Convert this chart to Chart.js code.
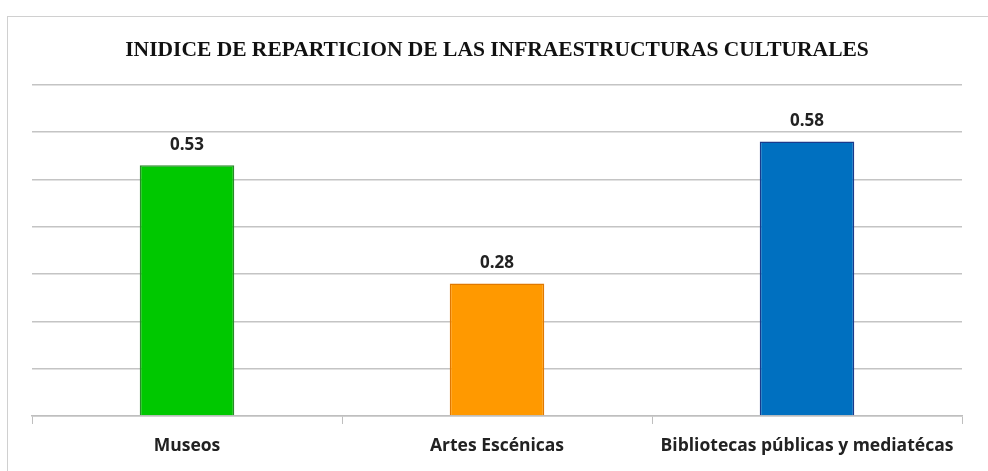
<!DOCTYPE html>
<html><head><meta charset="utf-8">
<script src="https://cdn.jsdelivr.net/npm/chart.js@4/dist/chart.umd.min.js"></script>
<style>
html,body{margin:0;padding:0;background:#fff;}
#wrap{position:relative;width:988px;height:471px;overflow:hidden;}
#frame{position:absolute;left:7px;top:16px;width:1000px;height:500px;border:1px solid #d0d0d0;box-sizing:border-box;}
canvas{position:absolute;left:0;top:0;}
</style></head>
<body><div id="wrap"><div id="frame"></div><canvas id="c" width="988" height="471"></canvas></div>
<script>
const titleText = "INIDICE DE REPARTICION DE LAS INFRAESTRUCTURAS CULTURALES";
const categories = ["Museos", "Artes Escénicas", "Bibliotecas públicas y mediatécas"];
const values = [0.53, 0.28, 0.58];
const barColors = ["#00c800", "#ff9900", "#0070c0"];
const borderColors = ["#2a8a2a", "#e07800", "#1a3a8c"];
const yMin = 0, yMax = 0.7, yStep = 0.1;

const labelPlugin = {
  id: 'valLabels',
  afterDatasetsDraw(chart) {
    const ctx = chart.ctx;
    const meta = chart.getDatasetMeta(0);
    ctx.save();
    ctx.font = "bold 17px 'Open Sans', 'DejaVu Sans', sans-serif";
    ctx.fillStyle = "#222";
    ctx.textAlign = "center";
    ctx.textBaseline = "middle";
    meta.data.forEach((bar, i) => {
      ctx.fillText(values[i].toFixed(2), bar.x, bar.y - 20);
    });
    ctx.restore();
  }
};

new Chart(document.getElementById('c'), {
  type: 'bar',
  data: {
    labels: categories,
    datasets: [{
      data: values,
      backgroundColor: barColors,
      borderColor: borderColors,
      borderWidth: 1.5,
      barPercentage: 0.61,
      categoryPercentage: 0.5
    }]
  },
  options: {
    responsive: false,
    animation: false,
    layout: { padding: { left: 32, right: 26, top: 0, bottom: 2 } },
    plugins: {
      legend: { display: false },
      tooltip: { enabled: false },
      title: {
        display: true,
        text: titleText,
        color: "#111",
        font: { family: "'Liberation Serif', 'Times New Roman', serif", size: 21.5, weight: 'bold' },
        padding: { top: 38, bottom: 21 }
      }
    },
    scales: {
      x: {
        grid: { display: true, drawOnChartArea: false, drawTicks: true, tickLength: 8, color: "#bfbfbf", offset: true },
        border: { display: true, color: "#bfbfbf", width: 1.5 },
        ticks: { color: "#222", font: { family: "'Open Sans', 'DejaVu Sans', sans-serif", size: 17.5, weight: 'bold' }, padding: 12 }
      },
      y: {
        min: yMin, max: yMax,
        ticks: { display: false, stepSize: yStep },
        grid: { color: "#c4c4c4", lineWidth: 1.5, drawTicks: false },
        border: { display: false }
      }
    }
  },
  plugins: [labelPlugin]
});
</script></body></html>
